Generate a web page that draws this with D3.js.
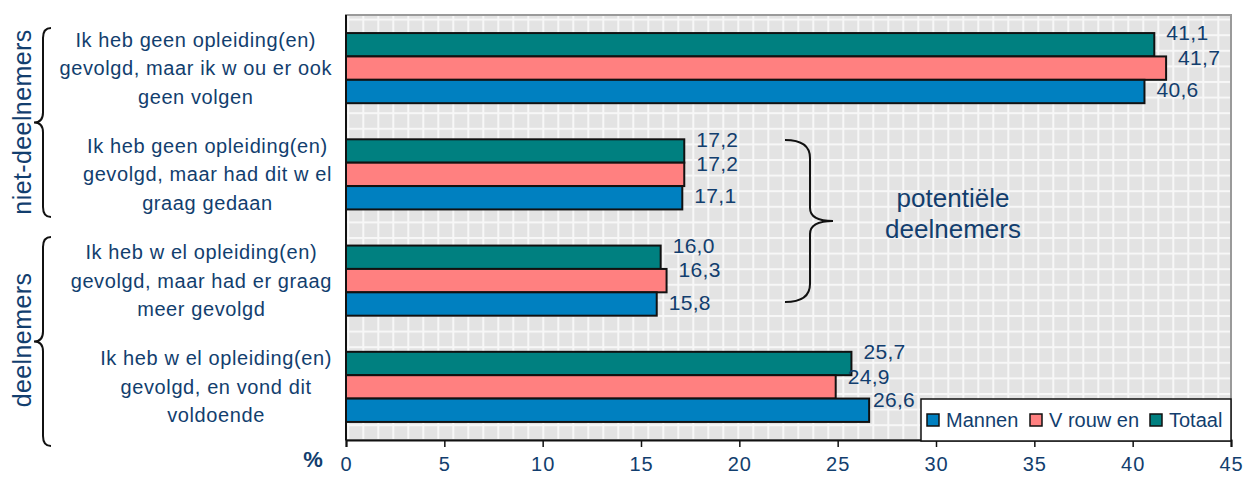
<!DOCTYPE html>
<html>
<head>
<meta charset="utf-8">
<script src="https://cdn.jsdelivr.net/npm/d3@7"></script>
<style>
  body { margin: 0; background: #fff; }
  svg { font-family: "Liberation Sans", Arial, sans-serif; }
</style>
</head>
<body>
<div class="main-container"></div>
<script>
// data
var categories = [
    ["Ik heb geen opleiding(en)", "gevolgd, maar ik w ou er ook", "geen volgen"],
    ["Ik heb geen opleiding(en)", "gevolgd, maar had dit w el", "graag gedaan"],
    ["Ik heb w el opleiding(en)", "gevolgd, maar had er graag", "meer gevolgd"],
    ["Ik heb w el opleiding(en)", "gevolgd, en vond dit", "voldoende"]
];
var seriesNames = ["Mannen", "V rouw en", "Totaal"];
var mannen = [40.6, 17.1, 15.8, 26.6];
var vrouwen = [41.7, 17.2, 16.3, 24.9];
var totaal = [41.1, 17.2, 16.0, 25.7];
var xTicks = [0, 5, 10, 15, 20, 25, 30, 35, 40, 45];

var textColor = "#123e6e";
var colors = { "Mannen": "#0080c0", "V rouw en": "#ff8080", "Totaal": "#008080" };

var width = 1247, height = 480;
var plotLeft = 346, plotRight = 1231, plotTop = 15, plotBottom = 440;
var legendBox = { x: 921, y: 399, w: 310, h: 42 };

var svg = d3.select(".main-container")
    .append("svg")
    .attr("width", width)
    .attr("height", height);

// grid pattern background
var pat = svg.append("defs").append("pattern")
    .attr("id", "grid")
    .attr("patternUnits", "userSpaceOnUse")
    .attr("x", 2.3).attr("y", 3)
    .attr("width", 15).attr("height", 15.6);
pat.append("rect").attr("width", 15).attr("height", 15.6).attr("fill", "#e3e3e3");
pat.append("rect").attr("x", 0).attr("y", 0).attr("width", 2).attr("height", 15.6).attr("fill", "#f7f7f7");
pat.append("rect").attr("x", 0).attr("y", 0).attr("width", 15).attr("height", 2).attr("fill", "#f7f7f7");

svg.append("rect")
    .attr("x", plotLeft).attr("y", plotTop)
    .attr("width", plotRight - plotLeft).attr("height", plotBottom - plotTop)
    .attr("fill", "url(#grid)")
    .attr("stroke", "#9a9a9a")
    .attr("stroke-width", 2);

var x = d3.scaleLinear().domain([0, 45]).range([plotLeft, plotRight]);
var y0 = d3.scaleBand().domain(d3.range(categories.length))
    .range([plotTop, plotBottom]).paddingInner(0.34).paddingOuter(0.17);
var order = ["Totaal", "V rouw en", "Mannen"];
var y1 = d3.scaleBand().domain(order).range([0, y0.bandwidth()]);

var rows = categories.map(function (c, i) {
    return { i: i, values: { "Mannen": mannen[i], "V rouw en": vrouwen[i], "Totaal": totaal[i] } };
});

var groups = svg.selectAll("g.cat")
    .data(rows)
    .enter()
    .append("g")
    .attr("class", "cat")
    .attr("transform", function (d) { return "translate(0," + y0(d.i) + ")"; });

groups.selectAll("rect")
    .data(function (d) { return order.map(function (s) { return { s: s, v: d.values[s] }; }); })
    .enter()
    .append("rect")
    .attr("x", x(0))
    .attr("y", function (d) { return y1(d.s); })
    .attr("width", function (d) { return x(d.v) - x(0); })
    .attr("height", y1.bandwidth())
    .attr("fill", function (d) { return colors[d.s]; })
    .attr("stroke", "#111")
    .attr("stroke-width", 2);

var fmt = function (v) { return d3.format(".1f")(v).replace(".", ","); };
var labelDy = { "Totaal": 0, "V rouw en": 1, "Mannen": 10 };

groups.selectAll("text.val")
    .data(function (d) { return order.map(function (s) { return { s: s, v: d.values[s] }; }); })
    .enter()
    .append("text")
    .attr("class", "val")
    .attr("x", function (d) { return x(d.v) + 12; })
    .attr("y", function (d) { return y1(d.s) + labelDy[d.s]; })
    .attr("dy", "0.35em")
    .attr("font-size", 21)
    .attr("letter-spacing", 0.3)
    .attr("fill", textColor)
    .text(function (d) { return fmt(d.v); });

// keep value labels clear of the legend (as Excel nudged them)
svg.selectAll("text.val").each(function (d) {
    var b = this.getBBox();
    var gy = this.parentNode.transform.baseVal.consolidate().matrix.f;
    if (b.x + b.width > legendBox.x - 6 && gy + b.y + b.height > legendBox.y) {
        d3.select(this)
            .attr("x", legendBox.x - 6 - b.width)
            .attr("y", y1(d.s) + 1);
    }
});

// left axis line
svg.append("line")
    .attr("x1", plotLeft).attr("x2", plotLeft).attr("y1", plotTop).attr("y2", plotBottom)
    .attr("stroke", "#111").attr("stroke-width", 2);

// x axis
var xAxis = svg.append("g")
    .attr("transform", "translate(0," + plotBottom + ")")
    .call(d3.axisBottom(x).tickValues(xTicks).tickSize(7).tickPadding(10).tickFormat(d3.format("d")));
xAxis.select(".domain").attr("stroke", "#111").attr("stroke-width", 2);
xAxis.selectAll(".tick line").attr("stroke", "#111").attr("stroke-width", 1.5);
xAxis.selectAll(".tick text").attr("font-size", 20).attr("fill", textColor)
    .attr("letter-spacing", 1)
    .attr("font-family", "Liberation Sans, Arial, sans-serif");

svg.append("text")
    .attr("x", 313).attr("y", 467)
    .attr("text-anchor", "middle")
    .attr("font-size", 22).attr("font-weight", "bold")
    .attr("fill", textColor)
    .text("%");

// category labels: block right-aligned, lines centered
var catG = svg.selectAll("g.catlabel")
    .data(categories)
    .enter()
    .append("g")
    .attr("class", "catlabel");
catG.each(function (lines, i) {
    var g = d3.select(this);
    var cy = y0(i) + y0.bandwidth() / 2;
    var texts = g.selectAll("text").data(lines).enter().append("text")
        .attr("y", function (d, j) { return cy + (j - 1) * 28.5; })
        .attr("dy", "0.35em")
        .attr("text-anchor", "middle")
        .attr("font-size", 20)
        .attr("letter-spacing", 0.6)
        .attr("fill", textColor)
        .text(function (d) { return d; });
    var maxW = 0;
    texts.each(function () { maxW = Math.max(maxW, this.getComputedTextLength()); });
    texts.attr("x", 332 - maxW / 2);
});

// braces
function leftBrace(xo, xi, yt, yb) {
    var ym = (yt + yb) / 2, xm = xo - 8, r = 10;
    return "M" + xo + "," + yt + " Q" + xm + "," + yt + " " + xm + "," + (yt + r) +
        " L" + xm + "," + (ym - r) + " Q" + xm + "," + ym + " " + xi + "," + ym +
        " Q" + xm + "," + ym + " " + xm + "," + (ym + r) +
        " L" + xm + "," + (yb - r) + " Q" + xm + "," + yb + " " + xo + "," + yb;
}
svg.append("path").attr("d", leftBrace(51, 34, 28, 217))
    .attr("fill", "none").attr("stroke", "#111").attr("stroke-width", 2);
svg.append("path").attr("d", leftBrace(51, 34, 237, 446))
    .attr("fill", "none").attr("stroke", "#111").attr("stroke-width", 2);

svg.append("path")
    .attr("d", "M785,140 Q810,140 810,158 L810,208 Q810,221 833,221 Q810,221 810,234 L810,284 Q810,302 785,302")
    .attr("fill", "none").attr("stroke", "#111").attr("stroke-width", 2);

svg.append("text")
    .attr("transform", "translate(31,122) rotate(-90)")
    .attr("text-anchor", "middle")
    .attr("font-size", 25)
    .attr("letter-spacing", 0.4)
    .attr("fill", textColor)
    .text("niet-deelnemers");
svg.append("text")
    .attr("transform", "translate(31,340) rotate(-90)")
    .attr("text-anchor", "middle")
    .attr("font-size", 25)
    .attr("letter-spacing", 0.4)
    .attr("fill", textColor)
    .text("deelnemers");

svg.append("text")
    .attr("x", 953).attr("y", 198).attr("dy", "0.35em")
    .attr("text-anchor", "middle").attr("font-size", 26).attr("fill", textColor)
    .text("potentiële");
svg.append("text")
    .attr("x", 953).attr("y", 229).attr("dy", "0.35em")
    .attr("text-anchor", "middle").attr("font-size", 26).attr("fill", textColor)
    .text("deelnemers");

// legend
var legend = svg.append("g");
legend.append("rect")
    .attr("x", legendBox.x).attr("y", legendBox.y).attr("width", legendBox.w).attr("height", legendBox.h)
    .attr("fill", "#fff").attr("stroke", "#111").attr("stroke-width", 1.5);
var legX = [927, 1030, 1150];
seriesNames.forEach(function (s, i) {
    legend.append("rect")
        .attr("x", legX[i]).attr("y", 414).attr("width", 12).attr("height", 12)
        .attr("fill", colors[s]).attr("stroke", "#111").attr("stroke-width", 1.5);
    legend.append("text")
        .attr("x", legX[i] + 19).attr("y", 420).attr("dy", "0.35em")
        .attr("font-size", 20).attr("fill", textColor)
        .text(s);
});
</script>
</body>
</html>
